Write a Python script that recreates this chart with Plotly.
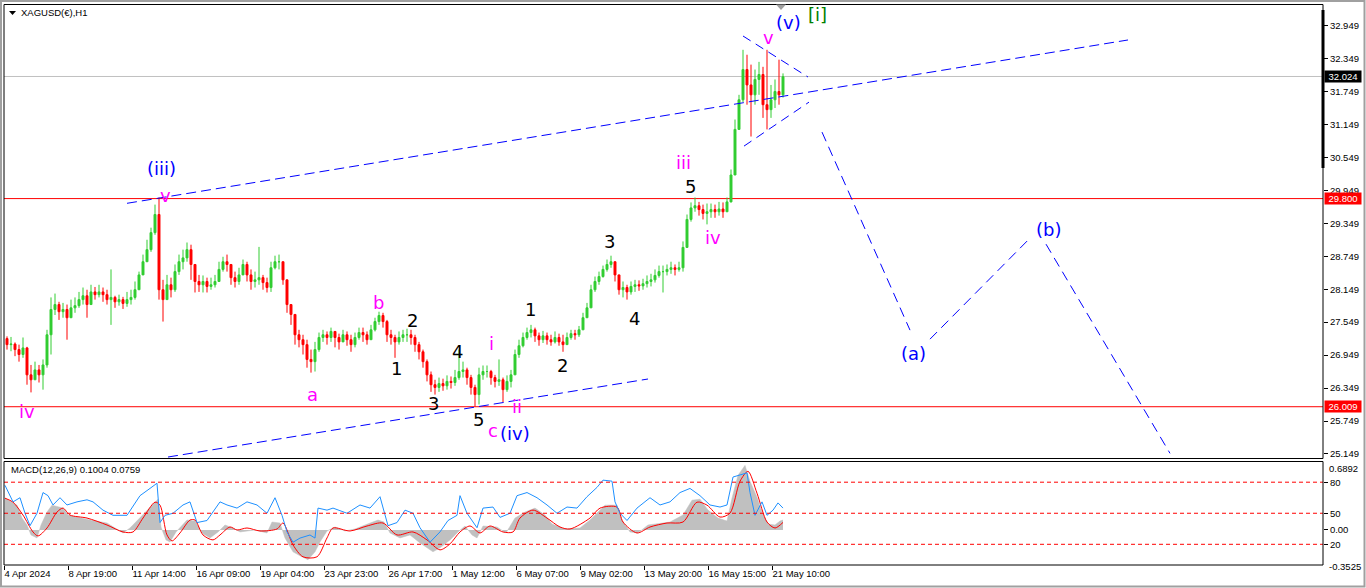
import plotly.graph_objects as go

W, H = 1366, 588

# ---------------- data ----------------
# H4-style bars, bar k is centred on hour index 4k+3 (hour 0 = first bar of 4 Apr 2024)
close = [27.14, 27.15, 27.05, 26.96, 27.08, 26.59, 26.50, 26.68, 26.59, 26.77,
         27.32, 27.78, 27.87, 27.74, 27.78, 27.63, 27.81, 27.85, 27.96, 28.03,
         27.87, 28.10, 28.05, 28.10, 28.05, 27.96, 28.00, 27.92, 27.96, 27.89,
         27.96, 28.00, 28.14, 28.41, 28.65, 28.87, 29.18, 29.51, 28.14, 27.96,
         28.23, 28.14, 28.47, 28.65, 28.72, 28.87, 28.60, 28.29, 28.23, 28.29,
         28.20, 28.23, 28.29, 28.51, 28.65, 28.60, 28.36, 28.29, 28.41, 28.60,
         28.41, 28.29, 28.32, 28.36, 28.27, 28.18, 28.54, 28.65, 28.65, 28.32,
         27.87, 27.69, 27.32, 27.23, 27.14, 26.87, 26.83, 27.05, 27.27, 27.32,
         27.27, 27.38, 27.27, 27.19, 27.32, 27.23, 27.14, 27.27, 27.36, 27.32,
         27.23, 27.41, 27.56, 27.67, 27.56, 27.32, 27.27, 27.19, 27.27, 27.32,
         27.32, 27.27, 27.14, 27.01, 26.83, 26.59, 26.41, 26.36, 26.43, 26.39,
         26.47, 26.45, 26.54, 26.65, 26.68, 26.54, 26.36, 26.23, 26.59, 26.65,
         26.65, 26.54, 26.47, 26.50, 26.32, 26.47, 26.59, 26.96, 27.12, 27.27,
         27.36, 27.41, 27.30, 27.23, 27.30, 27.23, 27.19, 27.27, 27.19, 27.14,
         27.27, 27.34, 27.32, 27.41, 27.63, 27.81, 28.14, 28.29, 28.38, 28.51,
         28.60, 28.65, 28.41, 28.14, 28.18, 28.10, 28.20, 28.23, 28.21, 28.25,
         28.29, 28.32, 28.40, 28.47, 28.47, 28.51, 28.54, 28.51, 28.54, 28.91,
         29.42, 29.63, 29.67, 29.60, 29.53, 29.56, 29.60, 29.56, 29.61, 29.56,
         29.74, 30.23, 31.06, 31.60, 32.15, 31.87, 31.69, 31.97, 32.06, 31.51,
         31.42, 31.60, 31.75, 31.69, 32.02]
high = [27.29, 27.28, 27.18, 27.14, 27.27, 27.10, 26.77, 26.83, 26.77, 26.87,
        27.41, 28.00, 28.07, 27.92, 27.90, 27.87, 27.96, 28.00, 28.10, 28.18,
        28.14, 28.23, 28.19, 28.23, 28.18, 28.14, 28.51, 28.03, 28.05, 28.01,
        28.10, 28.14, 28.29, 28.47, 28.78, 29.05, 29.27, 29.69, 29.82, 28.32,
        28.41, 28.36, 28.60, 28.78, 28.87, 29.00, 28.96, 28.60, 28.41, 28.40,
        28.36, 28.36, 28.41, 28.65, 28.74, 28.78, 28.60, 28.47, 28.54, 28.69,
        28.65, 28.51, 28.47, 28.92, 28.41, 28.36, 28.65, 28.76, 28.78, 28.65,
        28.32, 27.87, 27.69, 27.41, 27.32, 27.23, 27.05, 27.19, 27.36, 27.41,
        27.38, 27.45, 27.38, 27.34, 27.41, 27.38, 27.32, 27.36, 27.45, 27.45,
        27.38, 27.50, 27.63, 27.74, 27.72, 27.59, 27.41, 27.32, 27.38, 27.41,
        27.43, 27.41, 27.32, 27.19, 27.05, 26.87, 26.65, 26.50, 26.54, 26.52,
        26.58, 26.56, 26.68, 27.05, 26.83, 26.72, 26.59, 26.41, 26.72, 26.76,
        26.76, 26.68, 26.59, 26.87, 26.54, 26.58, 26.68, 27.05, 27.23, 27.36,
        27.45, 27.50, 27.45, 27.36, 27.39, 27.36, 27.32, 27.38, 27.34, 27.32,
        27.36, 27.41, 27.41, 27.48, 27.72, 27.90, 28.23, 28.38, 28.47, 28.58,
        28.69, 28.76, 28.65, 28.41, 28.29, 28.23, 28.29, 28.32, 28.31, 28.34,
        28.40, 28.43, 28.51, 28.58, 28.58, 28.60, 28.65, 28.60, 28.65, 29.02,
        29.51, 29.73, 29.82, 29.74, 29.69, 29.71, 29.71, 29.69, 29.74, 29.73,
        29.82, 30.33, 31.24, 31.69, 32.51, 32.42, 32.24, 32.15, 32.29, 32.20,
        32.51, 31.87, 31.97, 32.33, 32.08]
low = [27.05, 27.02, 26.93, 26.83, 26.90, 26.41, 26.27, 26.50, 26.45, 26.32,
       26.72, 26.96, 27.68, 27.59, 27.63, 27.23, 27.63, 27.72, 27.81, 27.87,
       27.63, 27.96, 27.96, 28.00, 27.92, 27.87, 27.50, 27.81, 27.85, 27.79,
       27.83, 27.87, 27.96, 28.14, 28.41, 28.65, 28.83, 29.14, 27.96, 27.56,
       27.96, 28.00, 28.10, 28.41, 28.51, 28.65, 28.32, 28.09, 28.10, 28.09,
       28.09, 28.14, 28.18, 28.29, 28.47, 28.47, 28.23, 28.18, 28.23, 28.41,
       28.29, 28.14, 28.18, 28.23, 28.14, 28.09, 28.10, 28.51, 28.51, 28.23,
       27.72, 27.50, 27.14, 27.09, 26.96, 26.72, 26.63, 26.65, 27.01, 27.19,
       27.14, 27.19, 27.09, 27.05, 27.19, 27.12, 27.01, 27.09, 27.23, 27.19,
       27.14, 27.23, 27.38, 27.50, 27.45, 27.19, 27.14, 26.90, 27.14, 27.19,
       27.19, 27.14, 27.01, 26.87, 26.72, 26.47, 26.28, 26.23, 26.28, 26.30,
       26.32, 26.34, 26.39, 26.50, 26.54, 26.41, 26.23, 26.01, 26.05, 26.50,
       26.54, 26.41, 26.36, 26.39, 26.09, 26.28, 26.36, 26.59, 26.90, 27.09,
       27.23, 27.27, 27.19, 27.12, 27.17, 27.14, 27.12, 27.16, 27.12, 27.01,
       27.14, 27.23, 27.23, 27.28, 27.41, 27.63, 27.81, 28.10, 28.23, 28.36,
       28.47, 28.54, 28.29, 28.05, 28.00, 27.96, 28.05, 28.10, 28.12, 28.14,
       28.18, 28.20, 28.27, 28.36, 28.09, 28.40, 28.43, 28.40, 28.47, 28.47,
       28.91, 29.38, 29.56, 29.49, 29.42, 29.33, 29.45, 29.45, 29.49, 29.45,
       29.60, 29.73, 30.23, 31.06, 31.56, 31.51, 30.93, 31.51, 31.69, 31.27,
       31.06, 31.27, 31.45, 31.51, 31.64]
first_open = 27.25

bar_hours = [4 * k + 3 for k in range(len(close))]
open_ = [first_open] + close[:-1]
high = [max(h, o, c) for h, o, c in zip(high, open_, close)]
low = [min(l, o, c) for l, o, c in zip(low, open_, close)]

# horizontal levels
red_levels = [29.800, 26.009]
bid_price = 32.024

# price axis ticks
price_ticks = [32.949, 32.349, 31.749, 31.149, 30.549, 29.949, 29.349,
               28.749, 28.149, 27.549, 26.949, 26.349, 25.749, 25.149]

# time axis labels
time_tick_hours = [0, 64, 128, 192, 256, 320, 384, 448, 512, 576, 640, 704, 768]
time_tick_text = ["4 Apr 2024", "8 Apr 19:00", "11 Apr 14:00", "16 Apr 09:00",
                  "19 Apr 04:00", "23 Apr 23:00", "26 Apr 17:00", "1 May 12:00",
                  "6 May 07:00", "9 May 02:00", "13 May 20:00", "16 May 15:00",
                  "21 May 10:00"]

# MACD histogram (main line) and signal
macd_hours = [1, 13, 18, 23, 27, 33, 37, 43, 48, 59, 64, 76, 86, 103, 109, 119, 126, 136,
              143, 151, 154, 157, 162, 166, 172, 183, 191, 198, 206, 214, 221, 229, 236,
              251, 263, 268, 276, 281, 289, 296, 304, 311, 316, 323, 331, 341, 351, 361,
              374, 380, 386, 396, 406, 416, 429, 436, 446, 454, 461, 468, 473, 479, 493,
              502, 511, 521, 531, 541, 548, 561, 576, 586, 594, 601, 613, 618, 626, 634,
              644, 666, 679, 688, 696, 704, 714, 723, 728, 734, 741, 746, 753, 758, 764,
              771, 776, 779]
macd_main = [0.32, 0.25, 0.12, 0.05, -0.05, -0.08, 0.05, 0.18, 0.25, 0.22, 0.15, 0.12,
             0.10, 0.07, 0.03, -0.03, 0.02, 0.12, 0.20, 0.28, 0.31, 0.03, -0.10, -0.12,
             -0.02, 0.10, 0.09, -0.03, -0.08, -0.02, 0.05, 0.02, -0.02, 0.00, -0.03, 0.08,
             0.07, -0.08, -0.22, -0.26, -0.30, -0.22, -0.12, -0.01, 0.03, -0.01, 0.01,
             0.05, 0.10, 0.08, -0.03, -0.08, -0.05, -0.13, -0.22, -0.18, -0.10, -0.02,
             0.04, -0.05, -0.08, 0.04, 0.03, -0.03, 0.12, 0.18, 0.22, 0.15, 0.06, 0.01,
             0.02, 0.10, 0.18, 0.25, 0.25, 0.10, -0.02, -0.03, 0.05, 0.08, 0.15, 0.30,
             0.31, 0.20, 0.12, 0.09, 0.32, 0.55, 0.65, 0.49, 0.33, 0.18, 0.06, 0.05,
             0.09, 0.1004]
signal_hours = [1, 9, 19, 29, 34, 43, 53, 59, 66, 83, 103, 119, 129, 139, 151, 156, 163,
                168, 176, 186, 191, 199, 209, 216, 226, 233, 243, 256, 273, 279, 289, 299,
                313, 323, 329, 346, 363, 379, 393, 409, 423, 436, 446, 456, 466, 476, 486,
                499, 509, 516, 529, 543, 556, 566, 586, 596, 613, 619, 633, 646, 663, 679,
                693, 703, 716, 726, 736, 744, 753, 763, 771, 779]
macd_signal = [0.32, 0.28, 0.15, -0.02, -0.06, 0.02, 0.18, 0.22, 0.15, 0.12, 0.05, -0.02,
               -0.02, 0.12, 0.28, 0.25, -0.05, -0.11, -0.03, 0.10, 0.10, -0.05, -0.10,
               -0.05, 0.03, 0.00, 0.02, -0.01, 0.01, 0.07, -0.15, -0.27, -0.27, -0.08,
               0.02, -0.01, 0.04, 0.07, -0.05, -0.02, -0.10, -0.20, -0.14, -0.02, 0.04,
               -0.03, 0.04, -0.02, -0.02, 0.12, 0.20, 0.12, 0.03, 0.01, 0.12, 0.22, 0.23,
               0.08, -0.03, 0.03, 0.07, 0.08, 0.28, 0.25, 0.13, 0.17, 0.49, 0.59, 0.37,
               0.08, 0.02, 0.0759]
# oscillator line drawn in the same window (0-100 scale, levels 80/50/20)
osc_hours = [1, 9, 16, 21, 26, 33, 39, 44, 49, 56, 63, 73, 83, 89, 99, 109, 123, 136, 146,
             153, 156, 161, 169, 179, 186, 193, 203, 216, 223, 233, 243, 253, 263, 271,
             278, 283, 289, 296, 306, 311, 314, 323, 329, 343, 356, 366, 376, 384, 393,
             401, 409, 416, 426, 436, 444, 453, 456, 463, 473, 479, 489, 496, 506, 513,
             523, 533, 543, 553, 563, 573, 583, 593, 599, 608, 611, 616, 623, 633, 646,
             656, 666, 676, 686, 696, 706, 716, 723, 729, 736, 743, 746, 751, 758, 763,
             769, 774, 779]
osc_values = [77, 61, 65, 50, 38, 50, 70, 67, 58, 65, 58, 61, 63, 61, 53, 48, 48, 67, 74,
              79, 41, 48, 50, 58, 61, 41, 43, 61, 58, 55, 61, 58, 50, 65, 48, 32, 22, 26,
              29, 26, 55, 53, 55, 50, 58, 55, 66, 38, 41, 53, 50, 36, 22, 32, 43, 48, 67,
              50, 36, 55, 56, 46, 50, 67, 70, 65, 58, 50, 56, 55, 66, 75, 82, 81, 61, 50,
              43, 55, 65, 58, 61, 70, 74, 67, 58, 56, 58, 85, 87, 89, 70, 48, 61, 48, 53,
              60, 55]
osc_levels = [80, 50, 20]
macd_min, macd_max = -0.3525, 0.6892

# analyst drawings: (hour, price) end points
upper_channel = [(123, 29.714), (1124, 32.689)]
lower_channel = [(164, 25.093), (644, 26.514)]
triangle_top = [(739, 32.761), (804, 32.014)]
triangle_bottom = [(740, 30.756), (805, 31.557)]
projection = [[(818, 31.011), (906, 27.404)],
              [(926, 27.240), (1026, 29.080)],
              [(1042, 28.970), (1166, 25.160)]]

BLUE, MAG, BLK, GRN = "#0000ff", "#ff00ff", "#000000", "#008000"
wave_labels = [
    ("(iii)", 157, 30.357, BLUE), ("v", 161, 29.848, MAG), ("iv", 23, 25.931, MAG),
    ("a", 308, 26.240, MAG), ("b", 374, 27.916, MAG), ("1", 392, 26.714, BLK),
    ("2", 408, 27.588, BLK), ("3", 429, 26.076, BLK), ("4", 453, 27.024, BLK),
    ("5", 474, 25.785, BLK), ("i", 487, 27.169, MAG), ("ii", 513, 26.022, MAG),
    ("c", 489, 25.567, MAG), ("(iv)", 511, 25.530, BLUE), ("1", 526, 27.771, BLK),
    ("2", 558, 26.769, BLK), ("3", 605, 29.027, BLK), ("4", 630, 27.625, BLK),
    ("iii", 679, 30.466, MAG), ("5", 686, 30.029, BLK), ("iv", 709, 29.100, MAG),
    ("v", 764, 32.725, MAG), ("(v)", 784, 33.016, BLUE), ("[i]", 813, 33.144, GRN),
    ("(a)", 909, 26.987, BLUE), ("(b)", 1044, 29.246, BLUE),
]

# ---------------- layout geometry ----------------
def px(x):
    return x / W

def py(y):
    return 1 - y / H

X_DOM = [px(4), px(1323)]
MAIN_DOM = [py(458.5), py(4.5)]
MACD_DOM = [py(565), py(461.5)]
PRICE_RANGE = [25.066, 33.335]
HOUR_RANGE = [0, 1319]

AX_FONT = dict(family="Liberation Sans, Arial, sans-serif", size=9.5, color="black")
LBL_FONT = "DejaVu Sans, Verdana, sans-serif"

fig = go.Figure()

fig.add_trace(go.Candlestick(
    x=bar_hours, open=open_, high=high, low=low, close=close,
    increasing=dict(line=dict(color="#32cd32", width=1), fillcolor="#32cd32"),
    decreasing=dict(line=dict(color="#ff0000", width=1), fillcolor="#ff0000"),
    whiskerwidth=0, xaxis="x", yaxis="y", hoverinfo="skip"))

def seg_trace(segs, dash="10px,5px"):
    xs, ys = [], []
    for (a, b) in segs:
        xs += [a[0], b[0], None]
        ys += [a[1], b[1], None]
    return go.Scatter(x=xs, y=ys, mode="lines", xaxis="x", yaxis="y",
                      line=dict(color=BLUE, width=1, dash=dash), hoverinfo="skip")

fig.add_trace(seg_trace([upper_channel, lower_channel]))
fig.add_trace(seg_trace([triangle_top, triangle_bottom], dash="9px,6px"))
fig.add_trace(seg_trace(projection, dash="10px,6px"))

# MACD window
fig.add_trace(go.Scatter(x=macd_hours, y=macd_main, mode="lines", fill="tozeroy",
                         fillcolor="#c0c0c0", line=dict(color="#c0c0c0", width=0.5),
                         xaxis="x2", yaxis="y2", hoverinfo="skip"))
fig.add_trace(go.Scatter(x=osc_hours, y=osc_values, mode="lines",
                         line=dict(color="#1e90ff", width=1),
                         xaxis="x2", yaxis="y3", hoverinfo="skip"))
fig.add_trace(go.Scatter(x=signal_hours, y=macd_signal, mode="lines",
                         line=dict(color="#ff0000", width=1, shape="spline", smoothing=0.8),
                         xaxis="x2", yaxis="y2", hoverinfo="skip"))

shapes = []
# horizontal levels
for lv in red_levels:
    shapes.append(dict(type="line", xref="paper", yref="y", x0=X_DOM[0], x1=X_DOM[1],
                       y0=lv, y1=lv, line=dict(color="#ff0000", width=1), layer="below"))
shapes.append(dict(type="line", xref="paper", yref="y", x0=X_DOM[0], x1=X_DOM[1],
                   y0=bid_price, y1=bid_price, line=dict(color="#c0c0c0", width=1),
                   layer="below"))
for lv in osc_levels:
    shapes.append(dict(type="line", xref="paper", yref="y3", x0=X_DOM[0], x1=X_DOM[1],
                       y0=lv, y1=lv, line=dict(color="#ff0000", width=1, dash="4px,3px")))
# panel frames
for dom in (MAIN_DOM, MACD_DOM):
    shapes.append(dict(type="rect", xref="paper", yref="paper", x0=X_DOM[0], x1=X_DOM[1],
                       y0=dom[0], y1=dom[1], line=dict(color="black", width=1)))
# window border
shapes.append(dict(type="rect", xref="paper", yref="paper", x0=px(1), x1=px(1364.5),
                   y0=py(586.5), y1=py(1), line=dict(color="#a0a0a0", width=2)))
# scale bar on the price axis
shapes.append(dict(type="line", xref="paper", yref="paper", x0=px(1323), x1=px(1323),
                   y0=py(168), y1=py(10), line=dict(color="black", width=3)))
# chart-shift marker and title triangle
shapes.append(dict(type="path", xref="paper", yref="paper",
                   path=f"M {px(776)} {py(4.5)} L {px(786)} {py(4.5)} L {px(781)} {py(10)} Z",
                   fillcolor="#a0a0a0", line=dict(width=0)))
shapes.append(dict(type="path", xref="paper", yref="paper",
                   path=f"M {px(9)} {py(11)} L {px(16)} {py(11)} L {px(12.5)} {py(15)} Z",
                   fillcolor="black", line=dict(width=0)))

annotations = []
for text, hx, pr, col in wave_labels:
    annotations.append(dict(x=hx, y=pr, xref="x", yref="y", text=text, showarrow=False,
                            xanchor="center", yanchor="middle",
                            font=dict(family=LBL_FONT, size=18, color=col)))
# price boxes on the axis
for val, bg in ((bid_price, "black"), (red_levels[0], "#ff0000"), (red_levels[1], "#ff0000")):
    annotations.append(dict(x=px(1324), y=val, xref="paper", yref="y", text=f"{val:.3f}",
                            showarrow=False, xanchor="left", yanchor="middle",
                            width=36, height=11, align="center", bgcolor=bg, borderpad=0,
                            font=dict(AX_FONT, color="white")))
# MACD scale extremes
annotations.append(dict(x=px(1327), y=py(468), xref="paper", yref="paper",
                        text=f"{macd_max:.4f}", showarrow=False, xanchor="left",
                        yanchor="middle", font=AX_FONT))
annotations.append(dict(x=px(1327), y=py(566.5), xref="paper", yref="paper",
                        text=f"{macd_min:.4f}", showarrow=False, xanchor="left",
                        yanchor="middle", font=AX_FONT))
# titles
annotations.append(dict(x=px(19), y=py(13), xref="paper", yref="paper",
                        text="XAGUSD(€),H1", showarrow=False, xanchor="left",
                        yanchor="middle", font=AX_FONT))
annotations.append(dict(x=px(9), y=py(469), xref="paper", yref="paper",
                        text=f"MACD(12,26,9) {macd_main[-1]:.4f} {macd_signal[-1]:.4f}",
                        showarrow=False, xanchor="left", yanchor="middle", font=AX_FONT))

fig.update_layout(
    width=W, height=H, margin=dict(l=0, r=0, t=0, b=0),
    paper_bgcolor="white", plot_bgcolor="white", showlegend=False,
    shapes=shapes, annotations=annotations,
    xaxis=dict(domain=X_DOM, range=HOUR_RANGE, anchor="y", showticklabels=False,
               showgrid=False, zeroline=False, ticks="", rangeslider=dict(visible=False),
               fixedrange=True),
    xaxis2=dict(domain=X_DOM, range=HOUR_RANGE, anchor="y2", showgrid=False,
                zeroline=False, tickmode="array", tickvals=time_tick_hours,
                ticktext=time_tick_text, ticks="outside", ticklen=4, tickcolor="black",
                ticklabelposition="outside right", tickangle=0, tickfont=AX_FONT,
                automargin=False),
    yaxis=dict(domain=MAIN_DOM, range=PRICE_RANGE, anchor="x", side="right",
               showgrid=False, zeroline=False, tickmode="array", tickvals=price_ticks,
               ticktext=[f"{v:.3f}" for v in price_ticks], ticks="outside", ticklen=4,
               tickcolor="black", tickfont=AX_FONT, automargin=False),
    yaxis2=dict(domain=MACD_DOM, range=[macd_min, macd_max], anchor="x2", side="right",
                showgrid=False, zeroline=False, tickmode="array", tickvals=[0.0],
                ticktext=["0.00"], ticks="outside", ticklen=4, tickcolor="black",
                tickfont=AX_FONT, automargin=False),
    yaxis3=dict(domain=MACD_DOM, range=[0, 100], anchor="x2", overlaying="y2",
                side="right", showgrid=False, zeroline=False, tickmode="array",
                tickvals=osc_levels, ticktext=[str(v) for v in osc_levels],
                ticks="outside", ticklen=4, tickcolor="black", tickfont=AX_FONT,
                automargin=False),
)

fig.write_html("out.html", config={"displayModeBar": False},
               post_script="document.body.style.margin='0';document.body.style.overflow='hidden';")
